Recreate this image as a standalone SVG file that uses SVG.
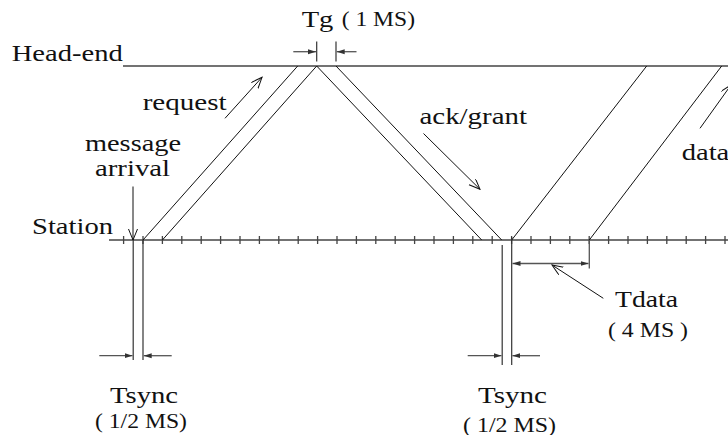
<svg xmlns="http://www.w3.org/2000/svg" width="728" height="435" viewBox="0 0 728 435">
<style>
  text { font-family: "Liberation Serif", "Times New Roman", serif; fill: #111; }
  .big { font-size: 24px; }
  .small { font-size: 20px; }
  .axis { stroke: #444; stroke-width: 1.3; fill: none; }
  .sig { stroke: #111; stroke-width: 1; fill: none; }
  .dim { stroke: #555; stroke-width: 1.3; fill: none; }
  .vline { stroke: #333; stroke-width: 1.2; fill: none; }
</style>
<defs>
  <marker id="open" markerUnits="userSpaceOnUse" markerWidth="12" markerHeight="10" refX="11" refY="4.5" orient="auto">
    <path d="M0,0 L11,4.5 L0,9" fill="none" stroke="#111" stroke-width="1"/>
  </marker>
  <marker id="dimarrow" markerUnits="userSpaceOnUse" markerWidth="9" markerHeight="6" refX="8" refY="3" orient="auto">
    <path d="M0,0.5 L8,3 L0,5.5 z" fill="#333"/>
  </marker>
</defs>
<rect width="728" height="435" fill="#fff"/>

<g id="head-end">
  <line class="axis" x1="123" y1="66" x2="728" y2="66"/>
  <text class="big" x="11.7" y="60.5" textLength="111" lengthAdjust="spacingAndGlyphs">Head-end</text>
</g>

<g id="station">
  <line class="axis" x1="109" y1="240" x2="728" y2="240"/>
  <path class="axis" stroke-width="1.1" d="M123.6,236V244 M143,236V244 M162.4,236V244 M181.8,236V244 M201.2,236V244 M220.6,236V244 M240,236V244 M259.4,236V244 M278.8,236V244 M298.2,236V244 M317.6,236V244 M337,236V244 M356.4,236V244 M375.8,236V244 M395.2,236V244 M414.6,236V244 M434,236V244 M453.4,236V244 M472.8,236V244 M492.2,236V244 M511.6,236V244 M531,236V244 M550.4,236V244 M569.8,236V244 M589.2,236V244 M608.6,236V244 M628,236V244 M647.4,236V244 M666.8,236V244 M686.2,236V244 M705.6,236V244 M725,236V244"/>
  <text class="big" x="32" y="234" textLength="81" lengthAdjust="spacingAndGlyphs">Station</text>
</g>

<g id="connectors">
  <!-- request -->
  <line class="sig" x1="143" y1="240" x2="297.7" y2="66"/>
  <line class="sig" x1="162.4" y1="240" x2="316.7" y2="66"/>
  <!-- ack/grant -->
  <line class="sig" x1="316.7" y1="66" x2="481.7" y2="240"/>
  <line class="sig" x1="336" y1="66" x2="501.7" y2="240"/>
  <!-- data -->
  <line class="sig" x1="511.7" y1="240" x2="646.7" y2="66"/>
  <line class="sig" x1="589.3" y1="240" x2="721.7" y2="66"/>
  <!-- direction arrows -->
  <line class="sig" x1="225" y1="118.3" x2="262" y2="77.3" marker-end="url(#open)"/>
  <line class="sig" x1="423.5" y1="133.5" x2="480" y2="189.3" marker-end="url(#open)"/>
  <line class="sig" x1="700" y1="128.3" x2="731" y2="85" marker-end="url(#open)"/>
  <line class="sig" x1="133" y1="186.5" x2="133" y2="240" marker-end="url(#open)"/>
</g>

<g id="tg">
  <line class="vline" x1="316.7" y1="41.5" x2="316.7" y2="61.5"/>
  <line class="vline" x1="336" y1="41.5" x2="336" y2="61.5"/>
  <line class="dim" x1="293.3" y1="51.7" x2="316" y2="51.7" marker-end="url(#dimarrow)"/>
  <line class="dim" x1="356.5" y1="51.7" x2="336.7" y2="51.7" marker-end="url(#dimarrow)"/>
  <text class="big" x="301.7" y="27" textLength="31.7" lengthAdjust="spacingAndGlyphs">Tg</text>
  <text class="small" x="341.7" y="26" textLength="73.3" lengthAdjust="spacingAndGlyphs">( 1 MS)</text>
</g>

<g id="labels">
  <text class="big" x="142.7" y="110" textLength="84" lengthAdjust="spacingAndGlyphs">request</text>
  <text class="big" x="85" y="151" textLength="96" lengthAdjust="spacingAndGlyphs">message</text>
  <text class="big" x="95" y="175.5" textLength="75" lengthAdjust="spacingAndGlyphs">arrival</text>
  <text class="big" x="419.5" y="123.5" textLength="107.5" lengthAdjust="spacingAndGlyphs">ack/grant</text>
  <text class="big" x="681.7" y="160" textLength="47.6" lengthAdjust="spacingAndGlyphs">data</text>
</g>

<g id="tsync-left">
  <line class="vline" x1="133.2" y1="240" x2="133.2" y2="360"/>
  <line class="vline" x1="143" y1="240" x2="143" y2="360"/>
  <line class="dim" x1="99.3" y1="355.7" x2="132.5" y2="355.7" marker-end="url(#dimarrow)"/>
  <line class="dim" x1="171.7" y1="355.7" x2="143.7" y2="355.7" marker-end="url(#dimarrow)"/>
  <text class="big" x="110" y="403" textLength="68" lengthAdjust="spacingAndGlyphs">Tsync</text>
  <text class="small" x="95" y="427.5" textLength="92" lengthAdjust="spacingAndGlyphs">( 1/2 MS)</text>
</g>

<g id="tsync-right">
  <line class="vline" x1="502.2" y1="245" x2="502.2" y2="365"/>
  <line class="vline" x1="511.7" y1="237" x2="511.7" y2="365"/>
  <line class="dim" x1="467.7" y1="355.7" x2="501.5" y2="355.7" marker-end="url(#dimarrow)"/>
  <line class="dim" x1="540" y1="355.7" x2="512.4" y2="355.7" marker-end="url(#dimarrow)"/>
  <text class="big" x="478" y="403" textLength="69" lengthAdjust="spacingAndGlyphs">Tsync</text>
  <text class="small" x="463" y="431.5" textLength="93" lengthAdjust="spacingAndGlyphs">( 1/2 MS)</text>
</g>

<g id="tdata">
  <line class="dim" x1="589.3" y1="240" x2="589.3" y2="268.5"/>
  <line class="dim" x1="550" y1="263.5" x2="512.5" y2="263.5" marker-end="url(#dimarrow)"/>
  <line class="dim" x1="550" y1="263.5" x2="588.5" y2="263.5" marker-end="url(#dimarrow)"/>
  <line class="sig" x1="603.3" y1="298.3" x2="552" y2="265" marker-end="url(#open)"/>
  <text class="big" x="615" y="307" textLength="63" lengthAdjust="spacingAndGlyphs">Tdata</text>
  <text class="small" x="608" y="336.5" textLength="80" lengthAdjust="spacingAndGlyphs">( 4 MS )</text>
</g>
</svg>
